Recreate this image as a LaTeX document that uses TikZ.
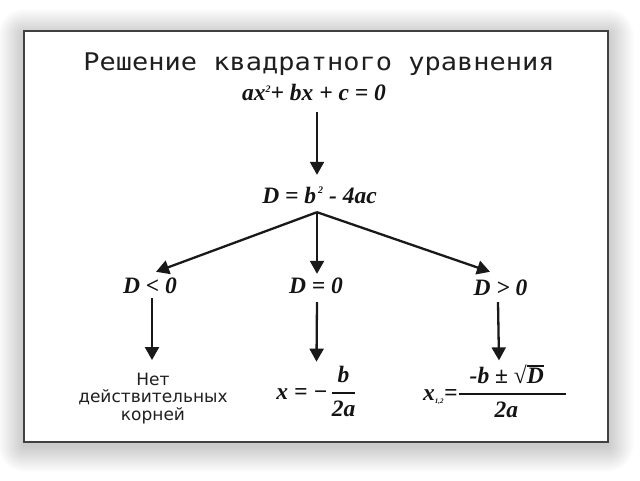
\documentclass[tikz,border=0pt]{standalone}
\usepackage{fontspec}
\usetikzlibrary{arrows.meta}
\newfontfamily\titlefont{DejaVu Sans Mono}
\newfontfamily\plainsans{DejaVu Sans}
\newfontfamily\mf{Liberation Serif}
\newcommand{\mtxt}[1]{\hbox{\mf\bfseries\itshape #1}}
\newcommand{\ovlD}{\vbox{\hrule height 1.3pt\kern1.2pt\hbox{D}}}
\tikzset{
  arr/.style={line width=2.3pt, draw=black!90, -{Triangle[width=14pt,length=13pt]}},
  formula/.style={inner sep=0pt, text height=16pt, text depth=2pt, font=\mf\bfseries\itshape\fontsize{23.5}{26}\selectfont, text=black!92},
  bigformula/.style={inner sep=0pt, font=\mf\bfseries\itshape\fontsize{23.5}{26}\selectfont, text=black!92},
  caption/.style={inner sep=0pt, align=center, font=\plainsans\fontsize{17}{17.5}\selectfont, text=black!88},
}
\begin{document}
\begin{tikzpicture}[x=1pt,y=-1pt]
\useasboundingbox (0,0) rectangle (640,480);
\fill[white] (0,0) rectangle (640,480);
% soft shadow
\foreach \i in {1,...,26}{
  \fill[black, opacity=0.0095, rounded corners=\i pt] (24-\i,35-\i) rectangle (608+\i,446+\i);
}
\draw[line width=1.5pt, draw=black!75, fill=white] (24,31) rectangle (608,442);
% title
\node[anchor=base, inner sep=0pt, text=black!88] (title) at (319,70)
  {\scalebox{1}[0.9]{\titlefont\fontsize{27}{30}\selectfont Решение квадратного уравнения}};
% formulas
\node[formula, anchor=base] (eq) at (314,100)
  {ax\raisebox{0.33em}{\fontsize{10}{10}\selectfont 2}+ bx + c = 0};
\node[formula, anchor=base] (disc) at (319.5,203)
  {D = b\hskip2pt\raisebox{0.42em}{\fontsize{10}{10}\selectfont 2} - 4ac};
\node[formula, anchor=base] (dlt) at (150,293) {D < 0};
\node[formula, anchor=base] (deq) at (316,293) {D = 0};
\node[formula, anchor=base] (dgt) at (500.5,295) {D > 0};
\node[caption, anchor=north] (none) at (153,372.6) {Нет\\действительных\\корней};
\node[bigformula, anchor=base] (xone) at (316.5,399)
  {$\displaystyle \mtxt{x = −}\hskip3pt{\mtxt{b}\above 1.5pt\mtxt{2a}}$};
\node[bigformula, anchor=base] (xtwo) at (495,400)
  {$\displaystyle \mtxt{x}_{\hbox{\mf\bfseries\itshape\fontsize{7}{7}\selectfont 1,2}}\mtxt{=}%
  {\hbox to 107pt{\hskip11pt\mf\bfseries\itshape -b {\upshape ±} {\upshape√}\ovlD\hfil}\above 1.5pt
   \hbox to 107pt{\hskip36pt\mf\bfseries\itshape 2a\hfil}}$};
% connectors
\draw[arr] ([shift={(3pt,-10pt)}]eq.south) -- ([shift={(-2.5pt,12pt)}]disc.north);
\draw[arr] ([shift={(-2.5pt,-7pt)}]disc.south) -- ([shift={(6pt,5pt)}]dlt.north);
\draw[arr] ([shift={(-2.5pt,-7pt)}]disc.south) -- ([shift={(1pt,3pt)}]deq.north);
\draw[arr] ([shift={(-2.5pt,-7pt)}]disc.south) -- ([shift={(-10.5pt,7pt)}]dgt.north);
\draw[arr] ([shift={(2pt,-3pt)}]dlt.south) -- ([shift={(-1pt,12.6pt)}]none.north);
\draw[arr] ([shift={(1pt,-7pt)}]deq.south) -- ([yshift=4pt]xone.north);
\draw[arr] ([shift={(-2.5pt,-5pt)}]dgt.south) -- ([shift={(4pt,4pt)}]xtwo.north);
\end{tikzpicture}
\end{document}
